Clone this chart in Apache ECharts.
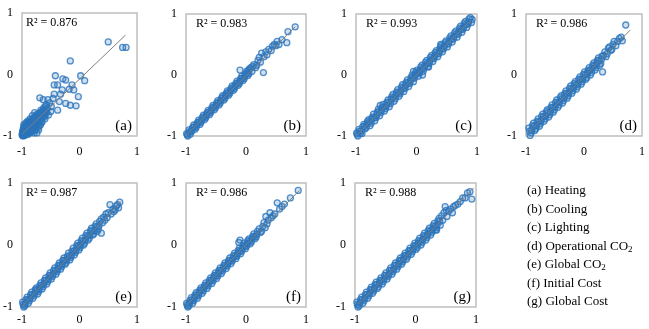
<!DOCTYPE html>
<html>
<head>
<meta charset="utf-8">
<script src="https://cdn.jsdelivr.net/npm/echarts@6/dist/echarts.min.js"></script>
<style>
  html, body { margin: 0; padding: 0; background: #fff; }
  #chart { width: 649px; height: 329px; }
</style>
</head>
<body>
<div id="chart"></div>
<script>
// predicted vs actual (normalised), one array per panel
const heating = [
  [-0.99,-0.99],[-0.98,-0.96],[-0.97,-0.99],[-0.96,-0.94],[-0.95,-0.97],[-0.99,-0.93],[-0.97,-0.91],[-0.94,-0.92],
  [-0.93,-0.96],[-0.92,-0.90],[-0.91,-0.94],[-0.95,-0.88],[-0.90,-0.87],[-0.89,-0.92],[-0.88,-0.89],[-0.93,-0.85],
  [-0.87,-0.85],[-0.86,-0.90],[-0.85,-0.87],[-0.91,-0.82],[-0.84,-0.83],[-0.83,-0.88],[-0.82,-0.85],[-0.88,-0.80],
  [-0.81,-0.80],[-0.80,-0.84],[-0.79,-0.78],[-0.85,-0.77],[-0.78,-0.82],[-0.77,-0.76],[-0.83,-0.74],[-0.76,-0.80],
  [-0.75,-0.73],[-0.80,-0.71],[-0.74,-0.78],[-0.73,-0.70],[-0.77,-0.68],[-0.72,-0.75],[-0.71,-0.67],[-0.70,-0.72],
  [-0.74,-0.65],[-0.69,-0.64],[-0.68,-0.70],[-0.67,-0.61],[-0.66,-0.66],[-0.64,-0.60],[-0.63,-0.68],[-0.62,-0.57],
  [-0.60,-0.63],[-0.58,-0.58],[-0.96,-0.85],[-0.94,-0.80],[-0.90,-0.76],[-0.86,-0.72],[-0.82,-0.67],[-0.78,-0.62],
  [-0.97,-0.88],[-0.92,-0.97],[-0.86,-0.94],[-0.80,-0.90],[-0.74,-0.95],[-0.77,-0.91],[-0.70,-0.83],[-0.66,-0.78],
  [-0.72,-0.86],[-1.00,-0.98],[-0.99,-0.95],[-0.98,-1.00],[-0.98,-0.92],[-0.97,-0.97],[-0.96,-0.99],[-0.96,-0.90],
  [-0.95,-0.93],[-0.94,-0.98],[-0.94,-0.87],[-0.93,-0.91],[-0.92,-0.95],[-0.92,-0.84],[-0.91,-0.88],[-0.90,-0.93],
  [-0.90,-0.81],[-0.89,-0.86],[-0.88,-0.94],[-0.88,-0.78],[-0.87,-0.88],[-0.86,-0.82],[-0.85,-0.91],[-0.85,-0.75],
  [-0.84,-0.86],[-0.83,-0.79],[-0.82,-0.89],[-0.81,-0.74],[-0.80,-0.81],[-0.79,-0.86],[-0.78,-0.72],[-0.77,-0.79],
  [-0.76,-0.69],[-0.75,-0.83],[-0.74,-0.74],[-0.73,-0.66],[-0.72,-0.79],[-0.71,-0.71],[-0.70,-0.63],[-0.69,-0.76],
  [-0.68,-0.66],[-0.67,-0.58],[-0.65,-0.71],[-0.64,-0.63],[-0.62,-0.54],[-0.61,-0.66],[-0.59,-0.52],[-0.57,-0.62],
  [-0.56,-0.55],[-0.98,-0.89],[-0.95,-0.84],[-0.89,-0.97],[-0.83,-0.93],[-0.79,-0.95],[-0.76,-0.88],[-0.71,-0.90],
  [-0.68,-0.82],[-0.65,-0.77],[-0.60,-0.68],[-0.97,-0.82],[-0.92,-0.78],
  [-0.57,-0.58],[-0.55,-0.41],[-0.63,-0.41],[-0.69,-0.38],[-0.49,-0.52],[-0.46,-0.39],[-0.44,-0.32],[-0.38,-0.58],
  [-0.35,-0.44],[-0.33,-0.32],[-0.30,-0.25],[-0.24,-0.47],[-0.16,-0.50],[-0.06,-0.51],[-0.02,-0.36],[-0.10,-0.25],
  [-0.18,-0.24],[-0.13,-0.17],[-0.44,-0.17],[-0.38,-0.17],[-0.42,-0.02],[-0.29,-0.07],[-0.24,-0.09],[0.02,-0.02],
  [0.09,-0.10],[-0.16,0.22],[0.50,0.53],[0.75,0.44],[0.81,0.44],[-0.52,-0.46],[-0.58,-0.49],[-0.50,-0.60],
  [-0.54,-0.66],[-0.60,-0.72]
];
const cooling = [
  [-0.99,-0.96],[-0.97,-1.00],[-0.98,-0.98],[-0.95,-0.90],[-0.93,-0.97],[-0.94,-0.93],[-0.91,-0.93],[-0.89,-0.86],
  [-0.90,-0.90],[-0.87,-0.82],[-0.85,-0.89],[-0.86,-0.85],[-0.83,-0.86],[-0.81,-0.78],[-0.82,-0.82],[-0.79,-0.74],
  [-0.77,-0.81],[-0.78,-0.77],[-0.75,-0.78],[-0.73,-0.70],[-0.74,-0.74],[-0.71,-0.66],[-0.69,-0.73],[-0.70,-0.69],
  [-0.67,-0.70],[-0.65,-0.62],[-0.66,-0.66],[-0.63,-0.58],[-0.61,-0.65],[-0.62,-0.61],[-0.59,-0.62],[-0.57,-0.54],
  [-0.58,-0.58],[-0.55,-0.50],[-0.53,-0.57],[-0.54,-0.53],[-0.51,-0.54],[-0.49,-0.46],[-0.50,-0.50],[-0.47,-0.42],
  [-0.45,-0.49],[-0.46,-0.45],[-0.43,-0.46],[-0.41,-0.38],[-0.42,-0.42],[-0.39,-0.34],[-0.37,-0.41],[-0.38,-0.37],
  [-0.35,-0.38],[-0.33,-0.30],[-0.34,-0.34],[-0.31,-0.26],[-0.29,-0.33],[-0.30,-0.29],[-0.27,-0.30],[-0.25,-0.22],
  [-0.26,-0.26],[-0.23,-0.18],[-0.21,-0.25],[-0.22,-0.21],[-0.19,-0.22],[-0.17,-0.14],[-0.18,-0.18],[-0.15,-0.10],
  [-0.13,-0.17],[-0.14,-0.13],[-0.11,-0.14],[-0.09,-0.06],[-0.10,-0.10],[-0.07,-0.02],[-0.05,-0.09],[-0.06,-0.05],
  [-0.03,-0.06],[-0.01,0.02],[-0.02,-0.02],[0.01,0.06],[0.03,-0.01],[0.02,0.03],
  [0.04,0.08],[-0.10,0.08],[0.05,0.02],[0.06,0.10],[0.08,0.12],[0.10,0.06],[0.11,0.14],[0.13,0.17],
  [0.16,0.12],[0.18,0.16],[0.20,0.24],[0.22,0.29],[0.24,0.21],[0.26,0.36],[0.29,0.04],[0.30,0.30],
  [0.33,0.38],[0.35,0.33],[0.38,0.42],[0.42,0.40],[0.44,0.47],[0.47,0.50],[0.50,0.48],[0.52,0.55],
  [0.55,0.50],[0.60,0.58],[0.68,0.53],[0.70,0.71],[0.82,0.79]
];
const lighting = [
  [-0.99,-0.95],[-0.97,-1.00],[-0.98,-0.97],[-0.95,-0.89],[-0.93,-0.96],[-0.94,-0.92],[-0.91,-0.92],[-0.89,-0.85],
  [-0.90,-0.96],[-0.87,-0.81],[-0.85,-0.88],[-0.86,-0.84],[-0.83,-0.86],[-0.81,-0.76],[-0.82,-0.80],[-0.79,-0.73],
  [-0.77,-0.83],[-0.78,-0.77],[-0.75,-0.79],[-0.73,-0.69],[-0.74,-0.72],[-0.71,-0.64],[-0.69,-0.75],[-0.70,-0.70],
  [-0.67,-0.70],[-0.65,-0.61],[-0.66,-0.66],[-0.63,-0.56],[-0.61,-0.67],[-0.62,-0.60],[-0.59,-0.62],[-0.57,-0.53],
  [-0.58,-0.58],[-0.55,-0.48],[-0.53,-0.59],[-0.54,-0.53],[-0.51,-0.55],[-0.49,-0.45],[-0.50,-0.50],[-0.47,-0.41],
  [-0.45,-0.52],[-0.46,-0.45],[-0.43,-0.47],[-0.41,-0.36],[-0.42,-0.40],[-0.39,-0.32],[-0.37,-0.43],[-0.38,-0.37],
  [-0.35,-0.39],[-0.33,-0.28],[-0.34,-0.33],[-0.31,-0.24],[-0.29,-0.35],[-0.30,-0.29],[-0.27,-0.31],[-0.25,-0.20],
  [-0.26,-0.26],[-0.23,-0.16],[-0.21,-0.27],[-0.22,-0.21],[-0.19,-0.22],[-0.17,-0.12],[-0.18,-0.17],[-0.15,-0.08],
  [-0.13,-0.19],[-0.14,-0.13],[-0.11,-0.14],[-0.09,-0.04],[-0.10,-0.09],[-0.07,0.00],[-0.05,-0.11],[-0.06,-0.05],
  [-0.03,-0.05],[-0.01,0.05],[-0.02,0.00],[0.01,0.08],[0.03,-0.02],[0.02,0.03],[0.05,0.03],[0.07,0.13],
  [0.06,0.07],[0.09,0.16],[0.11,0.06],[0.10,0.11],[0.13,0.11],[0.15,0.21],[0.14,0.15],[0.17,0.24],
  [0.19,0.14],[0.18,0.19],[0.21,0.19],[0.23,0.29],[0.22,0.23],[0.25,0.32],[0.27,0.22],[0.26,0.27],
  [0.29,0.27],[0.31,0.37],[0.30,0.31],[0.33,0.40],[0.35,0.30],[0.34,0.35],[0.37,0.35],[0.39,0.45],
  [0.38,0.39],[0.41,0.48],[0.43,0.38],[0.42,0.43],[0.45,0.43],[0.47,0.53],[0.46,0.47],[0.49,0.56],
  [0.51,0.46],[0.50,0.51],[0.53,0.51],[0.55,0.61],[0.54,0.55],[0.57,0.64],[0.59,0.54],[0.58,0.59],
  [0.61,0.59],[0.63,0.69],[0.62,0.63],[0.65,0.72],[0.67,0.62],[0.66,0.67],[0.69,0.67],[0.71,0.77],
  [0.70,0.71],[0.73,0.80],[0.75,0.70],[0.74,0.75],[0.77,0.75],[0.79,0.85],[0.78,0.79],[0.81,0.88],
  [0.83,0.78],[0.82,0.83],[0.85,0.83],[0.87,0.92],[0.86,0.87],[0.89,0.94],[0.91,0.86],[0.92,0.91],
  [-0.05,0.06],[0.40,0.50],[0.20,0.13],[-0.60,-0.50],[0.10,0.00]
];
const operationalCO2 = [
  [-0.95,-0.87],[-0.93,-0.99],[-0.94,-0.92],[-0.91,-0.95],[-0.89,-0.83],[-0.90,-0.90],[-0.87,-0.79],[-0.85,-0.91],
  [-0.86,-0.84],[-0.83,-0.88],[-0.81,-0.76],[-0.82,-0.83],[-0.79,-0.72],[-0.77,-0.84],[-0.78,-0.77],[-0.75,-0.80],
  [-0.73,-0.68],[-0.74,-0.75],[-0.71,-0.64],[-0.69,-0.76],[-0.70,-0.69],[-0.67,-0.72],[-0.65,-0.60],[-0.66,-0.67],
  [-0.63,-0.57],[-0.61,-0.69],[-0.62,-0.62],[-0.59,-0.65],[-0.57,-0.53],[-0.58,-0.60],[-0.55,-0.49],[-0.53,-0.61],
  [-0.54,-0.54],[-0.51,-0.57],[-0.49,-0.45],[-0.50,-0.52],[-0.47,-0.41],[-0.45,-0.53],[-0.46,-0.46],[-0.43,-0.49],
  [-0.41,-0.37],[-0.42,-0.44],[-0.39,-0.34],[-0.37,-0.46],[-0.38,-0.39],[-0.35,-0.42],[-0.33,-0.30],[-0.34,-0.37],
  [-0.31,-0.26],[-0.29,-0.38],[-0.30,-0.31],[-0.27,-0.34],[-0.25,-0.22],[-0.26,-0.29],[-0.23,-0.18],[-0.21,-0.30],
  [-0.22,-0.23],[-0.19,-0.26],[-0.17,-0.14],[-0.18,-0.21],[-0.15,-0.11],[-0.13,-0.23],[-0.14,-0.16],[-0.11,-0.19],
  [-0.09,-0.07],[-0.10,-0.14],[-0.07,-0.03],[-0.05,-0.15],[-0.06,-0.08],[-0.03,-0.11],[-0.01,0.01],[-0.02,-0.06],
  [0.01,0.05],[0.03,-0.07],[0.02,0.00],[0.05,-0.04],[0.07,0.08],[0.06,0.03],[0.09,0.12],[0.11,0.00],
  [0.10,0.07],[0.13,0.04],[0.15,0.16],[0.14,0.11],[0.17,0.20],[0.19,0.08],[0.18,0.15],[0.21,0.12],
  [0.23,0.24],[0.22,0.19],[0.25,0.28],[0.27,0.16],[0.26,0.23],[0.29,0.19],[0.31,0.31],[0.30,0.26],
  [0.32,0.05],[0.34,0.32],[0.36,0.38],[0.38,0.30],[0.40,0.35],[0.42,0.44],[0.44,0.46],[0.46,0.40],
  [0.48,0.42],[0.50,0.50],[0.52,0.55],[0.55,0.48],[0.58,0.55],[0.61,0.60],[0.64,0.62],[0.66,0.56],
  [0.72,0.82]
];
const globalCO2 = [
  [-0.99,-0.92],[-0.97,-1.00],[-0.98,-0.96],[-0.95,-0.98],[-0.93,-0.88],[-0.94,-0.94],[-0.91,-0.84],[-0.89,-0.94],
  [-0.90,-0.88],[-0.87,-0.90],[-0.85,-0.80],[-0.86,-0.86],[-0.83,-0.76],[-0.81,-0.86],[-0.82,-0.80],[-0.79,-0.82],
  [-0.77,-0.72],[-0.78,-0.78],[-0.75,-0.69],[-0.73,-0.79],[-0.74,-0.73],[-0.71,-0.75],[-0.69,-0.65],[-0.70,-0.71],
  [-0.67,-0.61],[-0.65,-0.71],[-0.66,-0.65],[-0.63,-0.67],[-0.61,-0.57],[-0.62,-0.63],[-0.59,-0.53],[-0.57,-0.63],
  [-0.58,-0.57],[-0.55,-0.59],[-0.53,-0.49],[-0.54,-0.55],[-0.51,-0.45],[-0.49,-0.55],[-0.50,-0.49],[-0.47,-0.51],
  [-0.45,-0.41],[-0.46,-0.47],[-0.43,-0.37],[-0.41,-0.47],[-0.42,-0.41],[-0.39,-0.43],[-0.37,-0.33],[-0.38,-0.39],
  [-0.35,-0.29],[-0.33,-0.39],[-0.34,-0.33],[-0.31,-0.35],[-0.29,-0.25],[-0.30,-0.31],[-0.27,-0.21],[-0.25,-0.31],
  [-0.26,-0.25],[-0.23,-0.28],[-0.21,-0.18],[-0.22,-0.24],[-0.19,-0.13],[-0.17,-0.24],[-0.18,-0.18],[-0.15,-0.20],
  [-0.13,-0.10],[-0.14,-0.16],[-0.11,-0.05],[-0.09,-0.16],[-0.10,-0.10],[-0.07,-0.12],[-0.05,-0.01],[-0.06,-0.08],
  [-0.03,0.03],[-0.01,-0.08],[-0.02,-0.02],[0.01,-0.04],[0.03,0.07],[0.02,0.00],[0.05,0.11],[0.07,0.00],
  [0.06,0.06],[0.09,0.03],[0.11,0.15],[0.10,0.08],[0.13,0.19],[0.15,0.08],[0.14,0.14],[0.17,0.11],
  [0.19,0.23],[0.18,0.16],[0.21,0.27],[0.23,0.16],[0.22,0.22],[0.25,0.18],[0.27,0.30],[0.26,0.23],
  [0.29,0.34],[0.31,0.22],[0.30,0.29],[0.33,0.26],[0.35,0.38],[0.34,0.31],
  [0.38,0.19],[0.38,0.42],[0.40,0.36],[0.42,0.45],[0.44,0.40],[0.46,0.50],[0.48,0.44],[0.50,0.52],
  [0.53,0.65],[0.55,0.50],[0.58,0.58],[0.60,0.54],[0.62,0.57],[0.64,0.63],[0.66,0.65],[0.68,0.60],
  [0.70,0.69]
];
const initialCost = [
  [-0.99,-0.94],[-0.97,-1.00],[-0.98,-0.97],[-0.95,-0.98],[-0.93,-0.89],[-0.94,-0.93],[-0.91,-0.85],[-0.89,-0.94],
  [-0.90,-0.89],[-0.87,-0.90],[-0.85,-0.81],[-0.86,-0.85],[-0.83,-0.77],[-0.81,-0.86],[-0.82,-0.81],[-0.79,-0.82],
  [-0.77,-0.73],[-0.78,-0.77],[-0.75,-0.69],[-0.73,-0.78],[-0.74,-0.73],[-0.71,-0.74],[-0.69,-0.65],[-0.70,-0.69],
  [-0.67,-0.61],[-0.65,-0.70],[-0.66,-0.65],[-0.63,-0.66],[-0.61,-0.57],[-0.62,-0.61],[-0.59,-0.53],[-0.57,-0.62],
  [-0.58,-0.57],[-0.55,-0.58],[-0.53,-0.49],[-0.54,-0.53],[-0.51,-0.45],[-0.49,-0.54],[-0.50,-0.49],[-0.47,-0.50],
  [-0.45,-0.41],[-0.46,-0.45],[-0.43,-0.37],[-0.41,-0.46],[-0.42,-0.41],[-0.39,-0.42],[-0.37,-0.33],[-0.38,-0.37],
  [-0.35,-0.29],[-0.33,-0.38],[-0.34,-0.33],[-0.31,-0.34],[-0.29,-0.25],[-0.30,-0.30],[-0.27,-0.21],[-0.25,-0.30],
  [-0.26,-0.26],[-0.23,-0.26],[-0.21,-0.17],[-0.22,-0.22],[-0.19,-0.13],[-0.17,-0.22],[-0.18,-0.18],[-0.15,-0.18],
  [-0.13,-0.09],[-0.14,-0.14],[-0.11,-0.05],[-0.09,-0.14],[-0.10,-0.10],[-0.07,-0.10],[-0.05,-0.01],[-0.06,-0.06],
  [-0.03,0.03],[-0.01,-0.06],[-0.02,-0.02],[0.01,-0.02],[0.03,0.07],[0.02,0.02],[0.05,0.10],[0.07,0.02],
  [0.06,0.06],[0.09,0.05],[0.11,0.14],[0.10,0.10],[0.13,0.18],[0.15,0.10],[0.14,0.13],[0.17,0.13],
  [0.19,0.22],[0.18,0.17],
  [-0.10,0.08],[-0.12,0.04],[0.22,0.26],[0.24,0.20],[0.26,0.22],[0.28,0.30],[0.30,0.36],[0.32,0.28],
  [0.33,0.46],[0.35,0.34],[0.37,0.40],[0.40,0.52],[0.42,0.44],[0.45,0.47],[0.48,0.50],[0.52,0.68],
  [0.56,0.58],[0.60,0.62],[0.64,0.66],[0.74,0.76],[0.87,0.88]
];
const globalCost = [
  [-0.97,-0.92],[-0.95,-1.00],[-0.96,-0.96],[-0.93,-0.98],[-0.91,-0.88],[-0.92,-0.93],[-0.89,-0.84],[-0.87,-0.94],
  [-0.88,-0.88],[-0.85,-0.90],[-0.83,-0.80],[-0.84,-0.86],[-0.81,-0.76],[-0.79,-0.86],[-0.80,-0.80],[-0.77,-0.82],
  [-0.75,-0.72],[-0.76,-0.78],[-0.73,-0.68],[-0.71,-0.78],[-0.72,-0.72],[-0.69,-0.74],[-0.67,-0.64],[-0.68,-0.70],
  [-0.65,-0.60],[-0.63,-0.70],[-0.64,-0.64],[-0.61,-0.67],[-0.59,-0.57],[-0.60,-0.62],[-0.57,-0.53],[-0.55,-0.63],
  [-0.56,-0.57],[-0.53,-0.59],[-0.51,-0.49],[-0.52,-0.55],[-0.49,-0.45],[-0.47,-0.55],[-0.48,-0.49],[-0.45,-0.51],
  [-0.43,-0.41],[-0.44,-0.47],[-0.41,-0.37],[-0.39,-0.47],[-0.40,-0.41],[-0.37,-0.43],[-0.35,-0.33],[-0.36,-0.39],
  [-0.33,-0.29],[-0.31,-0.39],[-0.32,-0.33],[-0.29,-0.35],[-0.27,-0.25],[-0.28,-0.31],[-0.25,-0.21],[-0.23,-0.31],
  [-0.24,-0.25],[-0.21,-0.27],[-0.19,-0.17],[-0.20,-0.23],[-0.17,-0.13],[-0.15,-0.23],[-0.16,-0.17],[-0.13,-0.19],
  [-0.11,-0.09],[-0.12,-0.15],[-0.09,-0.05],[-0.07,-0.15],[-0.08,-0.09],[-0.05,-0.11],[-0.03,-0.01],[-0.04,-0.07],
  [-0.01,0.03],[0.01,-0.07],[0.00,-0.02],[0.03,-0.04],[0.05,0.07],[0.04,0.02],[0.07,0.11],[0.09,0.00],
  [0.08,0.06],[0.11,0.04],[0.13,0.15],[0.12,0.09],[0.15,0.19],[0.17,0.08],[0.16,0.14],[0.19,0.12],
  [0.21,0.23],[0.20,0.17],[0.23,0.27],[0.25,0.16],[0.24,0.22],[0.27,0.20],[0.29,0.31],[0.28,0.25],
  [0.31,0.35],[0.33,0.24],[0.32,0.30],[0.35,0.28],[0.37,0.39],[0.36,0.33],[0.39,0.43],[0.41,0.32],
  [0.40,0.38],
  [0.35,0.24],[0.43,0.47],[0.45,0.40],[0.47,0.52],[0.49,0.62],[0.51,0.56],[0.52,0.46],[0.55,0.55],
  [0.58,0.58],[0.61,0.52],[0.63,0.62],[0.66,0.64],[0.70,0.66],[0.74,0.70],[0.78,0.76],[0.82,0.76],
  [0.86,0.84],[0.90,0.86],[0.93,0.74]
];

// fitted lines, start and end
const trendA = [[-1.0,-0.97],[0.80,0.64]];
const trendB = [[-0.99,-0.98],[0.82,0.79]];
const trendC = [[-0.98,-0.98],[0.90,0.90]];
const trendD = [[-0.96,-0.95],[0.80,0.74]];
const trendE = [[-1.0,-0.99],[0.72,0.70]];
const trendF = [[-0.99,-0.97],[0.89,0.88]];
const trendG = [[-0.95,-0.96],[0.96,0.92]];

const r2Labels = ["0.876", "0.983", "0.993", "0.986", "0.987", "0.986", "0.988"];
const panelTags = ["(a)", "(b)", "(c)", "(d)", "(e)", "(f)", "(g)"];
const targetNames = ["Heating", "Cooling", "Lighting", "Operational CO2", "Global CO2", "Initial Cost", "Global Cost"];
const axisTicks = [-1, 0, 1];

const panels = [heating, cooling, lighting, operationalCO2, globalCO2, initialCost, globalCost];
const trends = [trendA, trendB, trendC, trendD, trendE, trendF, trendG];

// [left, top, width, height] of each plot box
const boxes = [
  [16, 13, 121, 123], [186, 14, 120, 122], [356, 14, 121, 122], [526, 14, 116, 122],
  [16, 183, 121, 124], [186, 183, 120, 124], [355, 183, 121, 124]
];

const serif = "'Liberation Serif', 'Times New Roman', serif";
const chart = echarts.init(document.getElementById("chart"));

const grid = [], xAxis = [], yAxis = [], series = [], graphic = [];
panels.forEach((pts, i) => {
  const b = boxes[i];
  grid.push({
    left: b[0], top: b[1], width: b[2], height: b[3],
    show: true, borderColor: "#bfbfbf", borderWidth: 1.5, backgroundColor: "#fff"
  });
  const axisBase = {
    type: "value", gridIndex: i,
    min: axisTicks[0], max: axisTicks[axisTicks.length - 1], interval: 1,
    axisLine: { show: false }, axisTick: { show: false }, splitLine: { show: false },
    axisLabel: { fontFamily: serif, fontSize: 12, color: "#000" }
  };
  xAxis.push({ ...axisBase, axisLabel: { ...axisBase.axisLabel, margin: i < 4 ? 10 : 7 } });
  yAxis.push({ ...axisBase, axisLabel: { ...axisBase.axisLabel, margin: 9 } });
  series.push({
    type: "scatter", xAxisIndex: i, yAxisIndex: i, data: pts,
    symbol: "circle", symbolSize: 6,
    itemStyle: { color: "rgba(46,117,182,0.28)", borderColor: "#2a74bb", borderWidth: 1.3, opacity: 0.8 },
    z: 2
  });
  series.push({
    type: "line", xAxisIndex: i, yAxisIndex: i, data: trends[i],
    symbol: "none", silent: true,
    lineStyle: { color: "#7f7f7f", width: 1 },
    z: 3
  });
  graphic.push({
    type: "text", left: b[0] + 10, top: b[1] + 4, z: 10,
    style: { text: "R\u00b2 = " + r2Labels[i], font: "12px " + serif, fill: "#000" }
  });
  graphic.push({
    type: "text", x: b[0] + b[2] - 5, y: b[1] + b[3] - 10, z: 10,
    style: { text: panelTags[i], font: "15px " + serif, fill: "#000", align: "right", verticalAlign: "middle" }
  });
});

// legend of panel names, CO2 with subscript
targetNames.forEach((name, i) => {
  const rich = { n: { fontFamily: serif, fontSize: 13, color: "#000" },
                 s: { fontFamily: serif, fontSize: 9, color: "#000", padding: [6, 0, 0, 0] } };
  const txt = name.endsWith("CO2")
    ? "{n|" + panelTags[i] + " " + name.slice(0, -1) + "}{s|2}"
    : "{n|" + panelTags[i] + " " + name + "}";
  graphic.push({
    type: "text", x: 527, y: 191 + i * 18.5, z: 10,
    style: { text: txt, rich: rich, verticalAlign: "middle" }
  });
});

chart.setOption({
  animation: false,
  grid: grid,
  xAxis: xAxis,
  yAxis: yAxis,
  series: series,
  graphic: graphic
});
</script>
</body>
</html>
